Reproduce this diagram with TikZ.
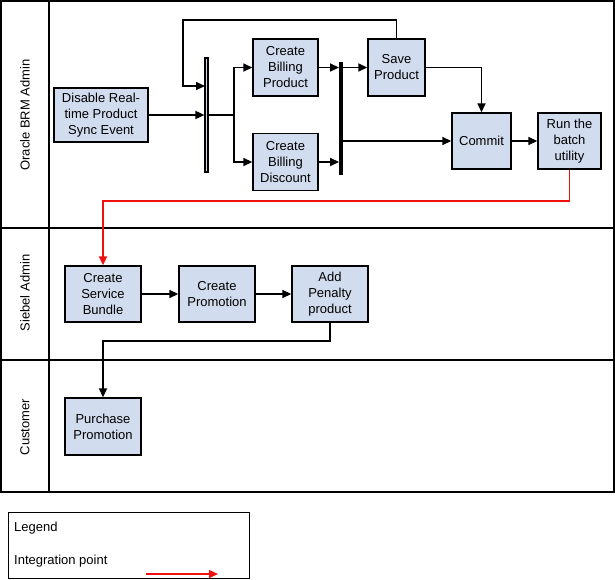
\documentclass[tikz,border=0pt]{standalone}
\usepackage{fontspec}
\setmainfont{Liberation Sans}
\usetikzlibrary{arrows.meta, positioning}
\definecolor{boxfill}{HTML}{D1DCEE}
\definecolor{redflow}{HTML}{F01010}

\begin{document}
\begin{tikzpicture}[
    x=1pt,
    y=-1pt,
    >={Triangle[length=9pt,width=8pt]},
    font=\fontsize{13}{16}\selectfont,
    box/.style={rectangle, draw, line width=1.4pt, fill=boxfill, align=center, minimum width=76, minimum height=56, inner sep=2pt},
    syncbar/.style={rectangle, draw, line width=1.2pt, fill=boxfill, minimum width=3, inner sep=0pt},
    joinbar/.style={rectangle, fill=black, minimum width=3.5, inner sep=0pt},
    lanelabel/.style={rotate=90, inner sep=0pt},
    line/.style={->, line width=1.6pt},
    redline/.style={->, line width=1.5pt, draw=redflow, color=redflow}
]
\useasboundingbox (0,0) rectangle (615,579);

% swim lanes
\draw[line width=1.6pt] (1,1) rectangle (614,492);
\draw[line width=1.6pt] (49,1) -- (49,492);
\draw[line width=1.6pt] (1,228) -- (614,228);
\draw[line width=1.6pt] (1,360) -- (614,360);
\node[lanelabel] (brmlane) at (25,115) {Oracle BRM Admin};
\node[lanelabel] (siebellane) at (25,293) {Siebel Admin};
\node[lanelabel] (customerlane) at (25,427) {Customer};

% Oracle BRM Admin
\node[box, minimum width=94, minimum height=54] (disable) at (101,115) {Disable Real-\\time Product\\Sync Event};
\node[syncbar, minimum height=114] (fork) at (206.5,115) {};
\node[box, minimum width=65, minimum height=57] (billprod) at (285.5,67.5) {Create\\Billing\\Product};
\node[box, minimum width=65, minimum height=57] (billdisc) at (285.5,162) {Create\\Billing\\Discount};
\node[joinbar, minimum height=113] (join) at (341,118.5) {};
\node[box, minimum width=57, minimum height=57] (save) at (396.5,67.5) {Save\\Product};
\node[box, minimum width=59, minimum height=56] (commit) at (481.5,141) {Commit};
\node[box, minimum width=63, minimum height=56] (run) at (569.5,141) {Run the\\batch\\utility};

% Siebel Admin
\node[box] (bundle) at (103,294) {Create\\Service\\Bundle};
\node[box] (promo) at (217,294) {Create\\Promotion};
\node[box] (penalty) at (330,294) {Add\\Penalty\\product};

% Customer
\node[box, minimum height=57] (purchase) at (103,426.5) {Purchase\\Promotion};

% legend
\node[draw, line width=1.4pt, minimum width=241, minimum height=66, anchor=north west] (legend) at (8,512) {};
\node[anchor=west, inner sep=0pt] (legendtitle) at (14,528) {Legend};
\node[anchor=west, inner sep=0pt] (legenditem) at (14,561) {Integration point};
\coordinate (legendfrom) at (146,574);
\coordinate (legendto) at (218,574);

% connectors
\coordinate (loopcorner) at (183,20);
\coordinate (loopin) at (205,86);
\coordinate (split) at (234,115);
\coordinate (redlevel) at (0,201);
\coordinate (droplevel) at (0,341);

\draw[line] (disable) -- (disable -| fork.west);
\draw[line] (save.north) |- (loopcorner) |- (loopin);
\draw[line width=1.6pt] (fork.east |- disable) -- (split);
\draw[line] (split) |- (billprod);
\draw[line] (split) |- (billdisc);
\draw[line] (billprod) -- (billprod -| join.west);
\draw[line] (billdisc) -- (billdisc -| join.west);
\draw[line] (join.east |- save) -- (save);
\draw[line] (join.east |- commit) -- (commit);
\draw[line] (save) -| (commit);
\draw[line] (commit) -- (run);
\draw[redline] (run.south) -- (run.south |- redlevel) -| (bundle.north);
\draw[line] (bundle) -- (promo);
\draw[line] (promo) -- (penalty);
\draw[line] (penalty.south) -- (penalty.south |- droplevel) -| (purchase.north);
\draw[redline] (legendfrom) -- (legendto);
\end{tikzpicture}
\end{document}
